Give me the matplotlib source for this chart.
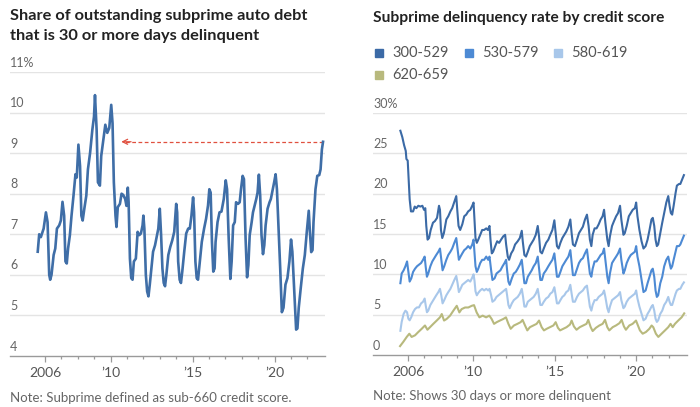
import matplotlib
matplotlib.use("Agg")
import matplotlib.pyplot as plt
from matplotlib.ticker import FixedLocator

plt.rcParams['font.family'] = ['Lato', 'DejaVu Sans']

# ---------------- data ----------------
left_title_lines = ["Share of outstanding subprime auto debt",
                    "that is 30 or more days delinquent"]
left_note = "Note: Subprime defined as sub-660 credit score."
right_title = "Subprime delinquency rate by credit score"
right_note = "Note: Shows 30 days or more delinquent"

left_t = [2005.56, 2005.65, 2005.75, 2005.92, 2006.06, 2006.16, 2006.26, 2006.32, 2006.40, 2006.53,
          2006.63, 2006.73, 2006.87, 2006.97, 2007.07, 2007.17, 2007.25, 2007.33, 2007.41, 2007.52,
          2007.62, 2007.74, 2007.86, 2007.94, 2008.04, 2008.14, 2008.22, 2008.30, 2008.40, 2008.52,
          2008.62, 2008.75, 2008.89, 2008.99, 2009.05, 2009.15, 2009.23, 2009.35, 2009.43, 2009.56,
          2009.68, 2009.80, 2009.92, 2010.04, 2010.12, 2010.20, 2010.30, 2010.36, 2010.44, 2010.57,
          2010.67, 2010.77, 2010.89, 2010.97, 2011.05, 2011.10, 2011.18, 2011.26, 2011.34, 2011.42,
          2011.54, 2011.65, 2011.75, 2011.85, 2011.95, 2012.00, 2012.06, 2012.15, 2012.23, 2012.31,
          2012.39, 2012.47, 2012.59, 2012.71, 2012.83, 2012.91, 2013.00, 2013.08, 2013.16, 2013.24,
          2013.32, 2013.40, 2013.52, 2013.64, 2013.76, 2013.88, 2014.00, 2014.06, 2014.12, 2014.21,
          2014.29, 2014.37, 2014.49, 2014.61, 2014.73, 2014.83, 2014.93, 2015.03, 2015.09, 2015.17,
          2015.25, 2015.33, 2015.44, 2015.56, 2015.70, 2015.82, 2015.94, 2016.02, 2016.10, 2016.18,
          2016.26, 2016.34, 2016.40, 2016.52, 2016.64, 2016.76, 2016.90, 2017.02, 2017.10, 2017.20,
          2017.30, 2017.38, 2017.47, 2017.57, 2017.65, 2017.77, 2017.87, 2017.95, 2018.05, 2018.13,
          2018.23, 2018.32, 2018.40, 2018.48, 2018.60, 2018.68, 2018.78, 2018.88, 2018.96, 2019.04,
          2019.12, 2019.20, 2019.29, 2019.37, 2019.45, 2019.57, 2019.69, 2019.77, 2019.89, 2019.97,
          2020.06, 2020.14, 2020.24, 2020.34, 2020.44, 2020.54, 2020.66, 2020.78, 2020.90, 2021.00,
          2021.08, 2021.19, 2021.31, 2021.39, 2021.47, 2021.59, 2021.72, 2021.84, 2021.96, 2022.08,
          2022.15, 2022.23, 2022.31, 2022.37, 2022.49, 2022.60, 2022.72, 2022.80, 2022.88, 2022.95]
left_v = [6.57, 7.00, 6.93, 7.14, 7.54, 7.30, 6.00, 5.88, 6.00, 6.49,
          6.65, 7.14, 7.22, 7.34, 7.80, 7.46, 6.33, 6.28, 6.65, 6.98,
          7.46, 7.95, 8.48, 8.40, 9.21, 8.68, 7.46, 7.34, 7.63, 7.95,
          8.60, 9.00, 9.58, 9.90, 10.43, 9.58, 8.28, 8.20, 8.93, 9.33,
          9.70, 9.50, 9.62, 10.19, 9.74, 8.28, 7.46, 7.18, 7.67, 7.75,
          8.00, 7.97, 7.87, 7.70, 8.15, 7.79, 6.40, 5.92, 5.88, 6.33,
          6.40, 7.06, 6.98, 7.02, 7.22, 7.46, 7.14, 6.00, 5.59, 5.47,
          5.76, 6.08, 6.57, 6.73, 6.98, 7.14, 7.63, 6.98, 6.16, 5.80,
          5.72, 6.00, 6.49, 6.69, 6.85, 7.06, 7.75, 7.54, 6.33, 5.88,
          5.80, 6.08, 6.57, 7.02, 7.14, 7.14, 7.46, 7.91, 7.54, 6.33,
          5.92, 5.88, 6.33, 6.81, 7.14, 7.38, 7.71, 8.11, 8.03, 6.81,
          6.08, 6.16, 6.81, 7.30, 7.54, 7.56, 7.87, 8.33, 8.11, 6.89,
          5.90, 6.33, 7.22, 7.30, 7.79, 7.75, 7.79, 8.11, 8.44, 8.36,
          6.89, 5.94, 6.24, 6.98, 7.30, 7.54, 7.71, 7.87, 8.03, 8.47,
          7.95, 6.98, 6.51, 6.73, 7.22, 7.63, 7.79, 7.87, 8.11, 8.28,
          8.48, 8.11, 7.14, 6.16, 5.08, 5.19, 5.76, 5.92, 6.33, 6.87,
          6.57, 5.67, 4.65, 4.68, 5.19, 5.67, 6.16, 6.49, 7.06, 7.58,
          7.06, 6.56, 6.61, 7.30, 8.11, 8.44, 8.46, 8.60, 9.09, 9.28]

left_yticks = [4, 5, 6, 7, 8, 9, 10, 11]
left_ylabels = ["4", "5", "6", "7", "8", "9", "10", "11%"]
left_arrow_level = 9.28
left_arrow_from = 2022.92
left_arrow_to = 2010.65

series_names = ["300-529", "530-579", "580-619", "620-659"]

s300_t = [2005.53, 2005.65, 2005.76, 2005.86, 2005.90, 2005.98, 2006.04, 2006.10, 2006.18, 2006.31,
          2006.41, 2006.51, 2006.63, 2006.76, 2006.88, 2006.98, 2007.06, 2007.12, 2007.20, 2007.29,
          2007.39, 2007.53, 2007.65, 2007.78, 2007.90, 2007.96, 2008.02, 2008.10, 2008.20, 2008.35,
          2008.47, 2008.60, 2008.71, 2008.86, 2008.96, 2009.02, 2009.10, 2009.20, 2009.33, 2009.45,
          2009.57, 2009.69, 2009.82, 2009.94, 2010.02, 2010.08, 2010.14, 2010.22, 2010.31, 2010.43,
          2010.55, 2010.67, 2010.80, 2010.90, 2011.00, 2011.06, 2011.14, 2011.22, 2011.35, 2011.47,
          2011.59, 2011.71, 2011.84, 2011.96, 2012.02, 2012.12, 2012.20, 2012.33, 2012.45, 2012.57,
          2012.73, 2012.86, 2012.98, 2013.04, 2013.14, 2013.24, 2013.35, 2013.47, 2013.59, 2013.71,
          2013.84, 2013.96, 2014.04, 2014.12, 2014.22, 2014.33, 2014.47, 2014.61, 2014.73, 2014.86,
          2014.98, 2015.06, 2015.14, 2015.24, 2015.35, 2015.47, 2015.59, 2015.71, 2015.84, 2015.96,
          2016.04, 2016.12, 2016.24, 2016.37, 2016.49, 2016.61, 2016.73, 2016.86, 2016.98, 2017.08,
          2017.16, 2017.25, 2017.33, 2017.45, 2017.57, 2017.70, 2017.82, 2017.94, 2018.03, 2018.11,
          2018.23, 2018.31, 2018.39, 2018.52, 2018.64, 2018.77, 2018.89, 2019.01, 2019.09, 2019.22,
          2019.30, 2019.42, 2019.55, 2019.67, 2019.79, 2019.92, 2020.00, 2020.08, 2020.20, 2020.33,
          2020.45, 2020.58, 2020.70, 2020.82, 2020.94, 2021.02, 2021.11, 2021.19, 2021.27, 2021.35,
          2021.48, 2021.60, 2021.72, 2021.85, 2021.97, 2022.05, 2022.13, 2022.21, 2022.30, 2022.42,
          2022.50, 2022.63, 2022.71, 2022.83, 2022.93]
s300_v = [27.8, 27.0, 26.0, 25.3, 24.3, 24.1, 21.8, 19.3, 17.8, 17.8,
          18.4, 18.2, 18.5, 18.4, 18.5, 18.0, 18.2, 16.0, 14.3, 14.5,
          15.5, 16.4, 16.6, 17.0, 18.5, 18.0, 15.5, 14.5, 15.1, 16.8,
          17.2, 17.8, 18.2, 19.1, 19.7, 18.0, 16.0, 15.5, 16.2, 17.2,
          17.4, 17.8, 18.0, 18.5, 18.9, 16.8, 14.5, 13.9, 14.3, 14.9,
          15.5, 15.5, 15.7, 15.5, 16.0, 14.3, 12.6, 12.8, 13.5, 14.1,
          13.9, 14.3, 14.7, 14.9, 13.7, 12.2, 11.8, 12.6, 13.0, 13.7,
          14.1, 14.5, 15.4, 14.1, 12.4, 12.2, 12.8, 13.5, 13.9, 14.3,
          14.9, 16.0, 14.7, 12.8, 12.6, 13.2, 13.9, 14.3, 14.9, 15.5,
          16.7, 15.1, 13.5, 13.2, 13.9, 14.5, 14.9, 15.3, 15.9, 16.8,
          15.1, 13.7, 13.5, 14.3, 15.1, 15.5, 15.9, 16.8, 17.4, 16.0,
          14.3, 13.5, 14.9, 15.7, 15.7, 16.2, 16.8, 17.2, 18.0, 16.4,
          14.3, 13.5, 14.7, 16.0, 16.6, 17.2, 17.6, 18.5, 16.8, 14.9,
          15.1, 16.0, 17.2, 17.6, 18.0, 18.2, 18.9, 17.2, 15.5, 14.1,
          13.2, 13.5, 14.3, 15.5, 16.8, 17.0, 16.0, 14.3, 13.5, 13.7,
          15.1, 16.4, 17.6, 18.9, 19.7, 18.5, 17.6, 17.4, 18.5, 20.1,
          21.0, 21.2, 21.2, 21.8, 22.3]

s530_t = [2005.53, 2005.61, 2005.73, 2005.84, 2005.94, 2006.02, 2006.10, 2006.20, 2006.31, 2006.43,
          2006.55, 2006.67, 2006.80, 2006.92, 2007.02, 2007.08, 2007.16, 2007.24, 2007.37, 2007.49,
          2007.61, 2007.73, 2007.86, 2007.96, 2008.04, 2008.12, 2008.22, 2008.35, 2008.47, 2008.60,
          2008.71, 2008.84, 2008.96, 2009.04, 2009.12, 2009.22, 2009.33, 2009.45, 2009.57, 2009.69,
          2009.82, 2009.94, 2010.02, 2010.08, 2010.14, 2010.22, 2010.31, 2010.43, 2010.55, 2010.67,
          2010.80, 2010.92, 2011.00, 2011.10, 2011.18, 2011.31, 2011.43, 2011.55, 2011.67, 2011.80,
          2011.92, 2012.02, 2012.08, 2012.16, 2012.24, 2012.37, 2012.49, 2012.61, 2012.73, 2012.86,
          2012.98, 2013.06, 2013.14, 2013.24, 2013.35, 2013.47, 2013.59, 2013.71, 2013.84, 2013.96,
          2014.04, 2014.12, 2014.22, 2014.33, 2014.47, 2014.61, 2014.73, 2014.86, 2014.98, 2015.06,
          2015.14, 2015.24, 2015.35, 2015.47, 2015.59, 2015.71, 2015.84, 2015.96, 2016.04, 2016.12,
          2016.24, 2016.37, 2016.49, 2016.61, 2016.73, 2016.86, 2016.98, 2017.08, 2017.16, 2017.25,
          2017.33, 2017.45, 2017.57, 2017.70, 2017.82, 2017.94, 2018.03, 2018.11, 2018.23, 2018.31,
          2018.39, 2018.52, 2018.64, 2018.77, 2018.89, 2019.01, 2019.09, 2019.22, 2019.30, 2019.42,
          2019.55, 2019.67, 2019.79, 2019.92, 2020.00, 2020.08, 2020.20, 2020.33, 2020.45, 2020.58,
          2020.70, 2020.82, 2020.94, 2021.02, 2021.11, 2021.19, 2021.27, 2021.35, 2021.48, 2021.60,
          2021.72, 2021.85, 2021.97, 2022.05, 2022.13, 2022.21, 2022.30, 2022.42, 2022.50, 2022.63,
          2022.71, 2022.83, 2022.93]
s530_v = [8.9, 10.1, 10.5, 11.0, 11.6, 10.3, 9.1, 9.5, 10.3, 10.7,
          11.0, 11.2, 11.4, 11.8, 12.2, 11.0, 9.7, 10.1, 11.0, 11.6,
          12.0, 12.4, 12.8, 13.2, 11.8, 10.5, 11.0, 11.8, 12.4, 12.8,
          13.2, 13.9, 14.5, 13.2, 11.8, 12.2, 12.6, 13.0, 13.2, 13.5,
          13.2, 13.7, 14.3, 12.6, 11.0, 10.3, 10.7, 11.4, 11.8, 11.8,
          12.2, 11.8, 12.2, 10.5, 9.3, 9.5, 10.1, 10.3, 10.5, 11.0,
          11.4, 11.8, 10.5, 9.1, 8.7, 9.5, 10.1, 10.3, 10.7, 11.2,
          11.8, 10.3, 8.9, 8.9, 9.7, 10.1, 10.5, 11.0, 11.4, 12.2,
          10.7, 9.3, 9.3, 10.1, 10.5, 11.0, 11.4, 11.8, 12.6, 11.2,
          9.7, 9.7, 10.3, 11.0, 11.4, 11.8, 12.2, 13.0, 11.4, 9.9,
          9.9, 10.7, 11.4, 11.8, 12.0, 12.6, 13.1, 11.4, 10.1, 9.7,
          10.7, 11.6, 11.6, 12.0, 12.4, 12.6, 13.2, 11.8, 9.7, 8.9,
          10.1, 11.4, 11.8, 12.2, 12.6, 13.2, 11.8, 10.1, 10.5, 11.4,
          12.0, 12.4, 12.6, 12.8, 13.5, 12.2, 11.0, 9.3, 7.8, 8.0,
          8.9, 9.7, 10.5, 10.7, 9.7, 8.0, 7.2, 7.4, 8.9, 9.7,
          11.0, 11.8, 12.2, 11.4, 10.7, 11.0, 11.8, 12.8, 13.5, 13.5,
          13.7, 14.3, 14.8]

s580_t = s530_t
s580_v = [3.0, 4.1, 5.1, 5.5, 5.3, 4.5, 4.3, 4.7, 5.3, 5.7,
          5.9, 5.9, 6.4, 6.6, 7.0, 6.2, 5.3, 5.5, 6.2, 6.6,
          7.0, 7.4, 7.8, 8.2, 7.4, 6.4, 6.8, 7.4, 7.8, 8.2,
          8.7, 9.3, 9.8, 8.9, 7.8, 8.2, 8.7, 8.9, 9.1, 9.3,
          9.1, 9.6, 10.0, 9.2, 7.9, 7.4, 7.7, 8.0, 8.2, 8.0,
          8.2, 8.0, 8.2, 7.4, 6.6, 6.8, 7.2, 7.4, 7.6, 7.8,
          8.0, 8.2, 7.4, 6.2, 5.8, 6.4, 6.8, 7.0, 7.2, 7.6,
          8.2, 7.2, 6.0, 6.0, 6.6, 6.8, 7.0, 7.2, 7.6, 8.2,
          7.2, 6.2, 6.2, 6.6, 7.0, 7.2, 7.6, 7.8, 8.4, 7.4,
          6.4, 6.4, 6.8, 7.2, 7.4, 7.8, 8.0, 8.7, 7.6, 6.6,
          6.6, 7.2, 7.6, 7.8, 8.0, 8.4, 8.6, 7.2, 6.0, 5.5,
          6.2, 6.8, 6.8, 7.2, 7.4, 7.6, 8.0, 7.2, 5.8, 5.3,
          6.0, 6.8, 7.0, 7.2, 7.4, 7.8, 6.8, 5.8, 6.0, 6.6,
          7.0, 7.2, 7.4, 7.6, 8.0, 7.0, 6.0, 5.1, 4.3, 4.5,
          5.1, 5.5, 6.0, 6.2, 5.5, 4.5, 4.1, 4.3, 5.1, 5.5,
          6.2, 6.6, 7.2, 6.6, 6.2, 6.2, 6.8, 7.6, 8.0, 8.2,
          8.2, 8.7, 9.0]

s620_t = [2005.51, 2005.71, 2005.92, 2006.08, 2006.22, 2006.43, 2006.63, 2006.84, 2007.04, 2007.19,
          2007.35, 2007.55, 2007.76, 2007.96, 2008.07, 2008.21, 2008.37, 2008.58, 2008.78, 2008.99,
          2009.15, 2009.29, 2009.50, 2009.70, 2009.91, 2010.05, 2010.21, 2010.38, 2010.58, 2010.79,
          2010.99, 2011.13, 2011.28, 2011.44, 2011.64, 2011.85, 2012.01, 2012.16, 2012.30, 2012.50,
          2012.71, 2012.91, 2013.03, 2013.18, 2013.32, 2013.48, 2013.69, 2013.89, 2014.04, 2014.20,
          2014.34, 2014.51, 2014.71, 2014.92, 2015.06, 2015.20, 2015.33, 2015.53, 2015.73, 2015.94,
          2016.04, 2016.18, 2016.34, 2016.54, 2016.75, 2016.95, 2017.06, 2017.21, 2017.33, 2017.53,
          2017.74, 2017.94, 2018.09, 2018.23, 2018.35, 2018.56, 2018.76, 2018.97, 2019.11, 2019.25,
          2019.37, 2019.58, 2019.78, 2019.99, 2020.07, 2020.23, 2020.40, 2020.60, 2020.81, 2020.95,
          2021.05, 2021.21, 2021.36, 2021.56, 2021.77, 2021.97, 2022.11, 2022.24, 2022.38, 2022.58,
          2022.79, 2022.95]
s620_v = [1.10, 1.63, 2.24, 2.64, 2.24, 2.44, 2.85, 3.25, 3.66, 3.13,
          3.45, 3.86, 4.27, 4.67, 5.08, 4.27, 4.47, 4.88, 5.49, 6.10,
          5.28, 5.69, 5.89, 5.89, 6.10, 6.18, 5.28, 4.67, 4.88, 4.67,
          4.88, 4.47, 3.86, 4.07, 4.27, 4.47, 4.67, 3.86, 3.25, 3.66,
          3.86, 4.07, 4.35, 3.66, 3.05, 3.45, 3.66, 3.86, 4.27, 3.45,
          3.05, 3.25, 3.45, 3.66, 4.07, 3.37, 3.05, 3.25, 3.45, 3.78,
          4.27, 3.54, 3.13, 3.45, 3.66, 3.86, 4.35, 3.45, 2.97, 3.37,
          3.66, 3.86, 4.35, 3.45, 3.05, 3.45, 3.66, 3.94, 4.35, 3.54,
          3.13, 3.66, 3.86, 4.27, 3.86, 3.05, 2.64, 2.85, 3.25, 3.66,
          3.45, 2.64, 2.24, 2.64, 3.05, 3.45, 3.86, 3.45, 3.86, 4.27,
          4.67, 5.16]

right_yticks = [0, 5, 10, 15, 20, 25, 30]
right_ylabels = ["0", "5", "10", "15", "20", "25", "30%"]

xtick_years = [2006, 2010, 2015, 2020]
xtick_labels = ["2006", "\u201910", "\u201915", "\u201920"]
minor_years = list(range(2006, 2023))

# ---------------- style ----------------
LINE_LEFT = "#3f6ea7"
COLORS = ["#3b6aa6", "#4d8ad4", "#a8c7ea", "#b8b97d"]
GRID = "#e4e4e4"
AXIS = "#9a9a9a"
TXT = "#555555"
TITLE = "#222222"

W, H = 700, 407
fig = plt.figure(figsize=(7.0, 4.07), dpi=100)


def px_axes(x0, y0, x1, y1):
    return fig.add_axes([x0 / W, 1 - y1 / H, (x1 - x0) / W, (y1 - y0) / H])


def style_axes(ax, yticks, ylabels):
    for s in ["top", "right", "left"]:
        ax.spines[s].set_visible(False)
    ax.spines["bottom"].set_color(AXIS)
    ax.spines["bottom"].set_linewidth(1.0)
    ax.set_yticks(yticks)
    ax.set_yticklabels([])
    ax.tick_params(axis="y", length=0)
    for v in yticks[1:]:
        ax.axhline(v, color=GRID, lw=1.0, zorder=0)
    for v, lab in zip(yticks, ylabels):
        ax.annotate(lab, xy=(0, v), xycoords=("axes fraction", "data"),
                    xytext=(0, 2.5), textcoords="offset points",
                    ha="left", va="bottom", fontsize=9, color="#666666")
    ax.xaxis.set_major_locator(FixedLocator(xtick_years))
    ax.set_xticklabels(xtick_labels)
    ax.xaxis.set_minor_locator(FixedLocator(minor_years))
    ax.tick_params(axis="x", which="major", length=4, width=0.9, color=AXIS,
                   labelsize=10, labelcolor=TXT, pad=4)
    ax.tick_params(axis="x", which="minor", length=2.5, width=0.9, color=AXIS)


# ---- left chart ----
axL = px_axes(10, 72, 325, 356)
axL.set_xlim(2003.87, 2023.07)
axL.set_ylim(4, 11)
style_axes(axL, left_yticks, left_ylabels)
axL.plot(left_t, left_v, color=LINE_LEFT, lw=1.9, solid_joinstyle="round", zorder=3)
axL.plot([left_arrow_from, left_arrow_to + 0.1], [left_arrow_level, left_arrow_level],
         color="#e0503f", lw=0.9, ls=(0, (3, 2)), zorder=2)
axL.annotate("", xy=(left_arrow_to, left_arrow_level),
             xytext=(left_arrow_to + 0.6, left_arrow_level),
             arrowprops=dict(arrowstyle="->", color="#e0503f", lw=0.9,
                             mutation_scale=9, shrinkA=0, shrinkB=0))

for i, line in enumerate(left_title_lines):
    fig.text(10 / W, 1 - (20 + 20 * i) / H, line, ha="left", va="baseline",
             fontsize=11.8, fontweight="bold", color=TITLE)
fig.text(10 / W, 1 - 402 / H, left_note, ha="left", va="baseline", fontsize=9.5,
         color="#666666")

# ---- right chart ----
axR = px_axes(373, 113, 687, 355)
axR.set_xlim(2003.85, 2023.12)
axR.set_ylim(0, 30)
style_axes(axR, right_yticks, right_ylabels)
series = [(s620_t, s620_v), (s580_t, s580_v), (s530_t, s530_v), (s300_t, s300_v)]
cols = COLORS[::-1]
for (t, v), c in zip(series, cols):
    axR.plot(t, v, color=c, lw=1.5, solid_joinstyle="round", zorder=3)

fig.text(373 / W, 1 - 22 / H, right_title, ha="left", va="baseline", fontsize=11.2,
         fontweight="bold", color=TITLE)
fig.text(373 / W, 1 - 400 / H, right_note, ha="left", va="baseline", fontsize=9.5,
         color="#666666")

# legend (manual placement in pixels)
leg_pos = [(375, 53), (465, 53), (554, 53), (375, 75)]
for name, c, (lx, ly) in zip(series_names, COLORS, leg_pos):
    fig.patches.append(plt.Rectangle((lx / W, 1 - (ly + 3.5) / H), 7.5 / W, 7.5 / H,
                                     transform=fig.transFigure, color=c))
    fig.text((lx + 17) / W, 1 - ly / H, name, ha="left", va="center",
             fontsize=10.5, color=TXT)

fig.savefig("out.png", dpi=100)
